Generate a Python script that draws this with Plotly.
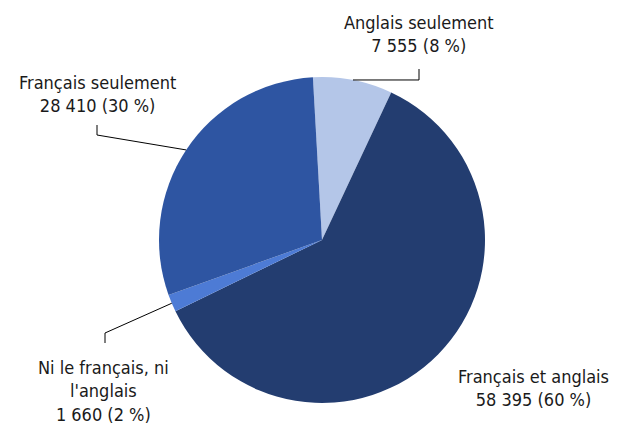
import math
import plotly.graph_objects as go

labels = ["Anglais seulement", "Français et anglais", "Ni le français, ni l'anglais", "Français seulement"]
values = [7555, 58395, 1660, 28410]
label_text = ["Anglais seulement<br>7 555 (8 %)", "Français et anglais<br>58 395 (60 %)",
              "Ni le français, ni<br>l'anglais<br>1 660 (2 %)", "Français seulement<br>28 410 (30 %)"]
colors = ["#B4C6E8", "#233D70", "#4D7BD5", "#2E55A2"]

W, H = 629, 433
CX, CY, R = 322, 240, 163
ROT = -3.2

def px(x):
    return x / W

def py(y):
    return 1 - y / H

fig = go.Figure(go.Pie(
    labels=labels, values=values, sort=False, direction="clockwise", rotation=ROT,
    marker=dict(colors=colors, line=dict(width=0)), textinfo="none", hoverinfo="label+value",
    domain=dict(x=[px(CX - R), px(CX + R)], y=[py(CY + R), py(CY - R)]),
    showlegend=False,
))

# mid-angle edge points from data
total = sum(values)
mids = []
acc = 0
for v in values:
    a = ROT + 360 * (acc + v / 2) / total
    mids.append((CX + R * math.sin(math.radians(a)), CY - R * math.cos(math.radians(a))))
    acc += v

font = dict(family="DejaVu Sans Condensed, Liberation Sans Narrow, Arial Narrow, sans-serif",
            size=18, color="#1a1a1a")
label_pos = [(419, 34), (533, 388), (103.5, 391), (97, 94)]
for t, (x, y) in zip(label_text, label_pos):
    fig.add_annotation(x=px(x), y=py(y), xref="paper", yref="paper", text=t, showarrow=False,
                       font=font, align="center", xanchor="center", yanchor="middle")

# leader lines: edge point -> elbow -> end
leaders = {0: [(419, 80), (419, 69)], 3: [(97, 135), (97, 125)], 2: [(105, 333), (105, 343)]}
for i, pts in leaders.items():
    ex, ey = mids[i]
    if i == 0:
        pts = [(pts[0][0], ey), (pts[1][0], pts[1][1])]
    path = f"M {px(ex)},{py(ey)}" + "".join(f" L {px(a)},{py(b)}" for a, b in pts)
    fig.add_shape(type="path", path=path, xref="paper", yref="paper",
                  line=dict(color="black", width=1))

fig.update_layout(width=W, height=H, margin=dict(l=0, r=0, t=0, b=0),
                  paper_bgcolor="white", plot_bgcolor="white")
fig.write_html("out.html", config={"displayModeBar": False},
               post_script="document.body.style.margin='0';document.body.style.overflow='hidden';")
